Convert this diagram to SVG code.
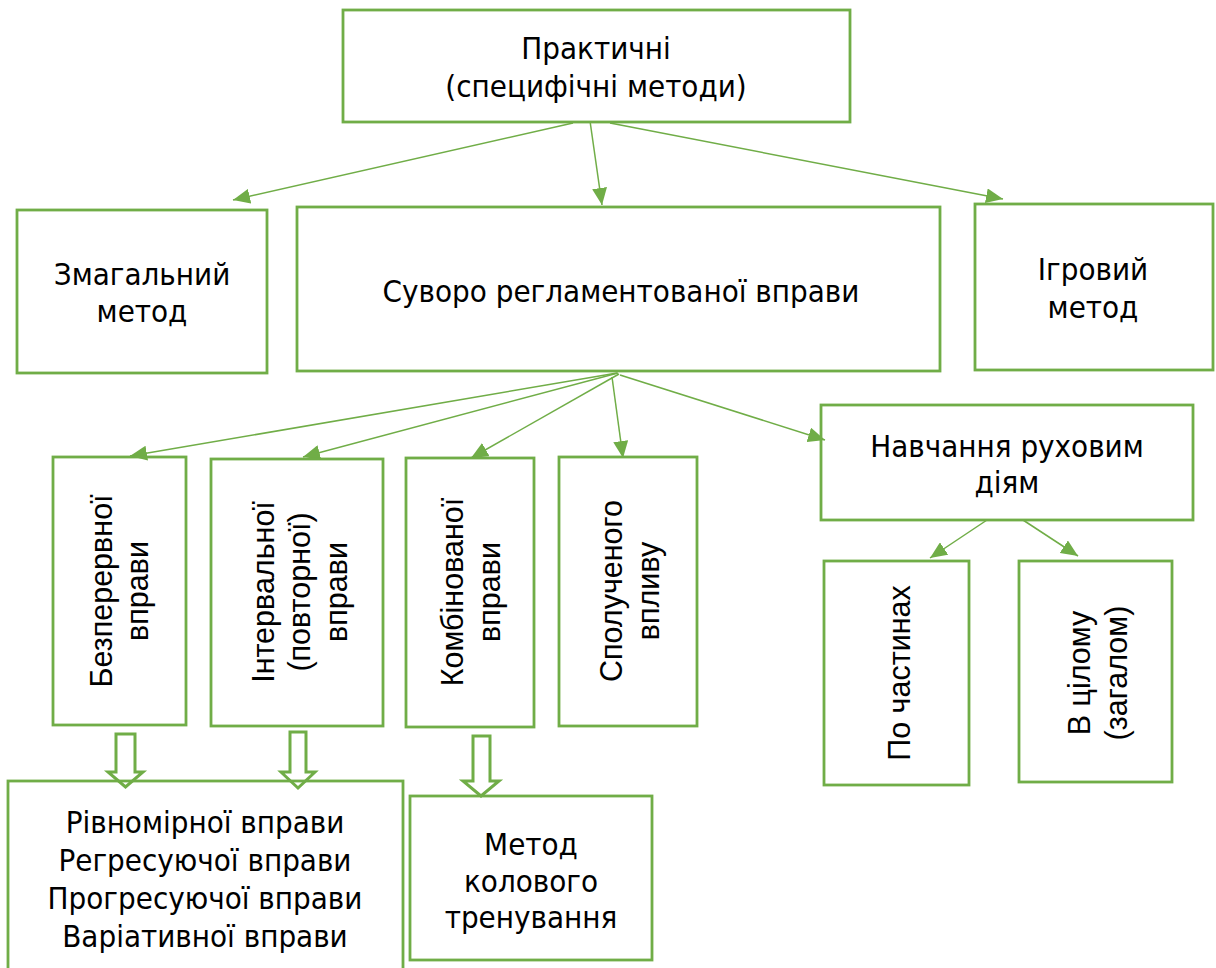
<svg xmlns="http://www.w3.org/2000/svg" width="1216" height="968" viewBox="0 0 1216 968">
<defs>
<style>
.box{fill:none;stroke:#70AD47;stroke-width:2.8}
.ln{fill:none;stroke:#70AD47;stroke-width:1.5}
.blk{fill:#fff;stroke:#70AD47;stroke-width:3}
.h{font-family:"DejaVu Sans Condensed","DejaVu Sans",sans-serif;font-stretch:condensed;font-size:31px;fill:#000;text-anchor:middle}
.v{font-family:"Liberation Sans",Arial,sans-serif;font-size:30.5px;fill:#000;text-anchor:middle}
</style>
<marker id="ah2" viewBox="0 0 10 10" refX="10" refY="5" markerWidth="17" markerHeight="15" markerUnits="userSpaceOnUse" orient="auto" preserveAspectRatio="none">
<path d="M0,0 L10,5 L0,10 Z" fill="#70AD47"/>
</marker>
</defs>
<rect width="1216" height="968" fill="#fff"/>
<g id="block-arrows">
<path class="blk" d="M116,734 H135 V772 H143 L125.5,787 L108,772 H116 Z"/>
<path class="blk" d="M290,732 H306 V772 H315 L298,788 L281,772 H290 Z"/>
<path class="blk" d="M473,736 H490 V781 H499 L481,796 L463,781 H473 Z"/>
</g>
<g id="connectors">
<line class="ln" x1="573" y1="123" x2="233" y2="200" marker-end="url(#ah2)"/>
<line class="ln" x1="590" y1="121" x2="602" y2="205" marker-end="url(#ah2)"/>
<line class="ln" x1="610" y1="123" x2="1003" y2="199" marker-end="url(#ah2)"/>
<line class="ln" x1="617" y1="373" x2="130" y2="456" marker-end="url(#ah2)"/>
<line class="ln" x1="618" y1="373" x2="303" y2="457" marker-end="url(#ah2)"/>
<line class="ln" x1="619" y1="374" x2="471" y2="458" marker-end="url(#ah2)"/>
<line class="ln" x1="612" y1="377" x2="623" y2="458" marker-end="url(#ah2)"/>
<line class="ln" x1="620" y1="375" x2="825" y2="440" marker-end="url(#ah2)"/>
<line class="ln" x1="987" y1="520" x2="930" y2="558" marker-end="url(#ah2)"/>
<line class="ln" x1="1023" y1="520" x2="1078" y2="556" marker-end="url(#ah2)"/>
</g>
<g id="n-practical">
<rect class="box" x="343" y="10" width="507" height="112"/>
<text class="h" x="596" y="59">Практичні<tspan x="596" y="97">(специфічні методи)</tspan></text>
</g>
<g id="n-competitive">
<rect class="box" x="17" y="210" width="250" height="163"/>
<text class="h" x="142" y="285">Змагальний<tspan x="142" y="322">метод</tspan></text>
</g>
<g id="n-strict">
<rect class="box" x="297" y="207" width="643" height="164"/>
<text class="h" x="621" y="302">Суворо регламентованої вправи</text>
</g>
<g id="n-game">
<rect class="box" x="975" y="204" width="238" height="166"/>
<text class="h" x="1093" y="280">Ігровий<tspan x="1093" y="318">метод</tspan></text>
</g>
<g id="n-teaching">
<rect class="box" x="821" y="405" width="372" height="115"/>
<text class="h" x="1007" y="457">Навчання руховим<tspan x="1007" y="493">діям</tspan></text>
</g>
<g id="n-continuous">
<rect class="box" x="53" y="457" width="133" height="268"/>
<text class="v" transform="translate(0,591) rotate(-90)" x="0" y="112">Безперервної<tspan x="0" y="148">вправи</tspan></text>
</g>
<g id="n-interval">
<rect class="box" x="211" y="459" width="172" height="267"/>
<text class="v" transform="translate(0,592) rotate(-90)" x="0" y="274">Інтервальної<tspan x="0" y="310">(повторної)</tspan><tspan x="0" y="347">вправи</tspan></text>
</g>
<g id="n-combined">
<rect class="box" x="406" y="458" width="128" height="269"/>
<text class="v" transform="translate(0,592) rotate(-90)" x="0" y="463">Комбінованої<tspan x="0" y="500">вправи</tspan></text>
</g>
<g id="n-conjugate">
<rect class="box" x="559" y="457" width="138" height="269"/>
<text class="v" transform="translate(0,591) rotate(-90)" x="0" y="622">Сполученого<tspan x="0" y="659">впливу</tspan></text>
</g>
<g id="n-parts">
<rect class="box" x="824" y="561" width="145" height="224"/>
<text class="v" transform="translate(0,673) rotate(-90)" x="0" y="910">По частинах</text>
</g>
<g id="n-whole">
<rect class="box" x="1019" y="561" width="153" height="221"/>
<text class="v" transform="translate(0,673) rotate(-90)" x="0" y="1090">В цілому<tspan x="0" y="1127">(загалом)</tspan></text>
</g>
<g id="n-uniform">
<rect class="box" x="8" y="781" width="395" height="200"/>
<text class="h" x="205" y="833">Рівномірної вправи<tspan x="205" y="871">Регресуючої вправи</tspan><tspan x="205" y="909">Прогресуючої вправи</tspan><tspan x="205" y="947">Варіативної вправи</tspan></text>
</g>
<g id="n-circuit">
<rect class="box" x="410" y="796" width="242" height="164"/>
<text class="h" x="531" y="855">Метод<tspan x="531" y="892">колового</tspan><tspan x="531" y="928">тренування</tspan></text>
</g>
</svg>
